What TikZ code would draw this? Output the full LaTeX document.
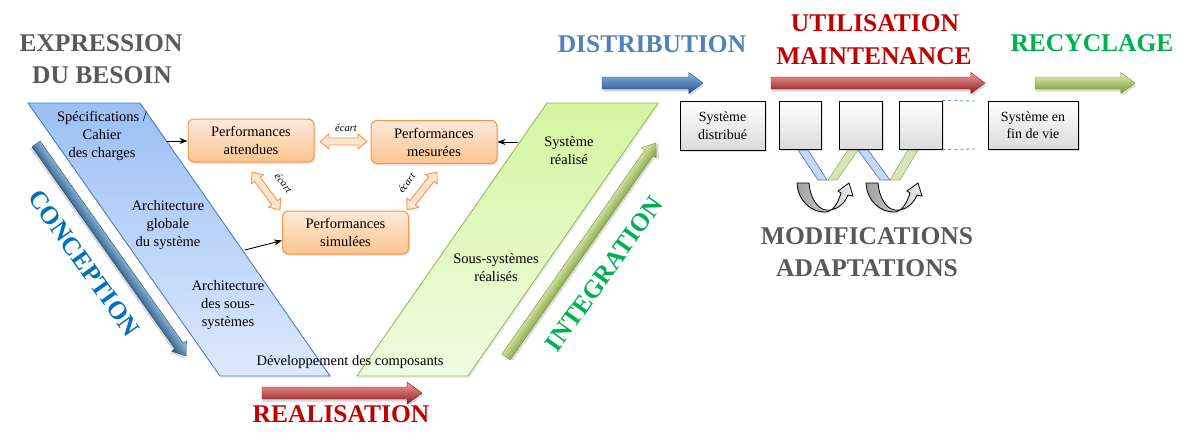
\documentclass[tikz,border=0pt]{standalone}
\usepackage{fontspec}
\setmainfont{Liberation Serif}
\usetikzlibrary{arrows.meta,shadows,calc}
\definecolor{hgrey}{HTML}{595959}
\definecolor{hblue}{HTML}{4F81BD}
\definecolor{hred}{HTML}{C00000}
\definecolor{hgreen}{HTML}{00B050}
\definecolor{cblue}{HTML}{0070C0}
\definecolor{vblue}{HTML}{4A7EBB}
\definecolor{vbluetop}{HTML}{9CBFF5}
\definecolor{vbluebot}{HTML}{DDE9FC}
\definecolor{vgreen}{HTML}{9BBB59}
\definecolor{vgreentop}{HTML}{D5F5A0}
\definecolor{vgreenbot}{HTML}{F0FBE2}
\definecolor{porange}{HTML}{F79646}
\definecolor{ptop}{HTML}{FDEADA}
\definecolor{pbot}{HTML}{FBC491}
\definecolor{dfill}{HTML}{FDE4CD}
\definecolor{sbfill}{HTML}{C6D9F1}
\definecolor{sgfill}{HTML}{D7E4BC}
\definecolor{tbtop}{HTML}{8DB3E2}
\definecolor{tbmid}{HTML}{4F81BD}
\definecolor{tbbot}{HTML}{24528F}
\definecolor{tctop}{HTML}{A9CDF0}
\definecolor{tcmid}{HTML}{3A85CC}
\definecolor{tcbot}{HTML}{1F4E79}
\definecolor{trtop}{HTML}{F4A09E}
\definecolor{trmid}{HTML}{D33F3C}
\definecolor{trbot}{HTML}{8B1A1A}
\definecolor{tgtop}{HTML}{E6F3C2}
\definecolor{tgmid}{HTML}{B3D466}
\definecolor{tgbot}{HTML}{76962C}

% 3D block arrow: x, y, angle, length, top, mid, bottom, half body, half head
\newcommand\tubearrow[9]{%
  \begin{scope}[transform canvas={shift={(#1,#2)},rotate=#3}]
    \fill[black,opacity=0.15] (1,{-#8+2.5}) -- ({#4-1.35*#9+1},{-#8+2.5}) -- ({#4-1.35*#9+1},{-#9+2.5}) -- ({#4+1},2.5) -- ({#4-1.35*#9+1},{#9+2.5}) -- ({#4-1.35*#9+1},{#8+2.5}) -- (1,{#8+2.5}) -- cycle;
    \path[top color=#5, middle color=#6, bottom color=#7, draw=#7, line width=0.4pt]
      (0,-#8) -- ({#4-1.35*#9},-#8) -- ({#4-1.35*#9},-#9) -- (#4,0) -- ({#4-1.35*#9},#9) -- ({#4-1.35*#9},#8) -- (0,#8) -- cycle;
  \end{scope}}

% orange double arrow: x, y, angle, length
\newcommand\dblarr[4]{%
  \begin{scope}[shift={(#1,#2)},rotate=#3]
    \path[draw=porange, line width=0.9pt, fill=dfill]
      ({-#4/2},0) -- ({-#4/2+9},-7.5) -- ({-#4/2+9},-3.5) -- ({#4/2-9},-3.5) -- ({#4/2-9},-7.5) -- ({#4/2},0)
      -- ({#4/2-9},7.5) -- ({#4/2-9},3.5) -- ({-#4/2+9},3.5) -- ({-#4/2+9},7.5) -- cycle;
  \end{scope}}

% grey curved U arrow: x, y of upper-left corner
\newcommand\uarrow[2]{%
  \begin{scope}[shift={(#1,#2)}]
    \path[draw=black, line width=0.8pt, left color=gray!75, right color=gray!12,
      drop shadow={opacity=0.2,shadow xshift=0pt,shadow yshift=-2pt}]
      (0,0) .. controls (1,18) and (14,29) .. (28,29)
      .. controls (36,29) and (41,20) .. (44,10) -- (41,8) -- (52,0) -- (56,13) -- (51,12)
      .. controls (47,22) and (38,28) .. (29,27)
      .. controls (20,26) and (13,14) .. (12,0) -- cycle;
  \end{scope}}

\begin{document}
\begin{tikzpicture}[x=1pt,y=-1pt,
  body/.style={font=\fontsize{14.5}{18}\selectfont, align=center, inner sep=0pt},
  head/.style={font=\bfseries\fontsize{25.5}{31}\selectfont, inner sep=0pt},
  perf/.style={draw=porange, line width=1pt, rounded corners=6pt, top color=ptop, bottom color=pbot,
    minimum width=126pt, minimum height=43pt, inner sep=0pt, font=\fontsize{14.5}{18}\selectfont, align=center,
    drop shadow={opacity=0.2, shadow xshift=1.5pt, shadow yshift=-2pt}},
  sysbox/.style={draw=black, line width=0.9pt, top color=white, bottom color=gray!28, inner sep=0pt,
    font=\fontsize{14}{17.5}\selectfont, align=center,
    drop shadow={opacity=0.25, shadow xshift=1.5pt, shadow yshift=-2pt}},
  ecart/.style={font=\itshape\fontsize{10.5}{12}\selectfont, inner sep=0pt},
  link/.style={-{Stealth[length=8pt,width=6pt,inset=2.5pt]}, line width=0.9pt},
  dashline/.style={draw=vblue, line width=0.8pt, dash pattern=on 3pt off 3pt}
]
\useasboundingbox (0,0) rectangle (1200,447);

% V parallelograms
\path[draw=vblue, line width=0.9pt, top color=vbluetop, bottom color=vbluebot,
  drop shadow={opacity=0.15, shadow xshift=1.5pt, shadow yshift=-2pt}]
  (28,103) -- (140,103) -- (330,376) -- (220,376) -- cycle;
\path[draw=vgreen, line width=0.9pt, top color=vgreentop, bottom color=vgreenbot,
  drop shadow={opacity=0.15, shadow xshift=1.5pt, shadow yshift=-2pt}]
  (357,376) -- (468,376) -- (658,103) -- (547,103) -- cycle;

% tubes
\tubearrow{36}{144}{-54.7}{259.7}{tctop}{tcmid}{tcbot}{5}{9}
\tubearrow{506}{357}{55}{261.3}{tgtop}{tgmid}{tgbot}{5}{9}
\tubearrow{262}{393}{0}{160}{trtop}{trmid}{trbot}{6}{11}
\tubearrow{602}{83}{0}{101}{tbtop}{tbmid}{tbbot}{6}{10.5}
\tubearrow{771}{83}{0}{214}{trtop}{trmid}{trbot}{6}{10.5}
\tubearrow{1035}{83}{0}{100}{tgtop}{tgmid}{tgbot}{6}{10.5}

% headings
\node[head, text=hgrey] (expr) at (101,43) {EXPRESSION};
\node[head, text=hgrey] (besoin) at (102,75) {DU BESOIN};
\node[head, text=hblue] (distr) at (652,44) {DISTRIBUTION};
\node[head, text=hred] (util) at (875,23) {UTILISATION};
\node[head, text=hred] (maint) at (874,56) {MAINTENANCE};
\node[head, text=hgreen] (recy) at (1092,43) {RECYCLAGE};
\node[head, text=hred] (real) at (341,414) {REALISATION};
\node[head, text=cblue, rotate=-54.5] (conc) at (84,263) {CONCEPTION};
\node[head, text=hgreen, rotate=54.5] (integ) at (604,274) {INTEGRATION};
\node[head, text=hgrey] (modif) at (867,236) {MODIFICATIONS};
\node[head, text=hgrey] (adapt) at (867,268) {ADAPTATIONS};

% texts in the V
\node[body] (spec) at (102,136) {Spécifications /\\Cahier\\des charges};
\node[body] (archg) at (168,225) {Architecture\\globale\\du système};
\node[body] (archs) at (228,305) {Architecture\\des sous-\\systèmes};
\node[body] (dev) at (350,362) {Développement des composants};
\node[body] (sysr) at (569,150.5) {Système\\réalisé};
\node[body] (ssr) at (496,268) {Sous-systèmes\\réalisés};

% performance boxes
\node[perf] (att) at (251,140.5) {Performances\\attendues};
\node[perf] (mes) at (434,142) {Performances\\mesurées};
\node[perf] (sim) at (345.5,232.5) {Performances\\simulées};

% ecart double arrows
\dblarr{343.5}{141.5}{0}{47}
\dblarr{266}{191}{-53.6}{47}
\dblarr{422}{191}{51.7}{48}
\node[ecart] (e1) at (346,128) {écart};
\node[ecart, rotate=-53] (e2) at (283.5,183) {écart};
\node[ecart, rotate=53] (e3) at (406.5,183) {écart};

% black links
\coordinate (specout) at (167,141);
\draw[link] (specout) -- (specout -| att.west);
\coordinate (archout) at (245,250);
\draw[link] (archout) -- ($(sim.west)+(0,8)$);
\coordinate (realout) at (518,142);
\draw[link] (realout) -- (mes.east);

% bands under boxes
\path[draw=vblue, fill=sbfill, line width=0.7pt] (798,150) -- (808,150) -- (827,180) -- (818,180) -- cycle;
\path[draw=vgreen, fill=sgfill, line width=0.7pt] (848,150) -- (858,150) -- (837,180) -- (828,180) -- cycle;
\path[draw=vblue, fill=sbfill, line width=0.7pt] (858,150) -- (868,150) -- (890,180) -- (880,180) -- cycle;
\path[draw=vgreen, fill=sgfill, line width=0.7pt] (908,150) -- (918,150) -- (900,180) -- (890,180) -- cycle;

% system boxes
\node[sysbox, minimum width=85pt, minimum height=49pt] (sd) at (722.5,125.5) {Système\\distribué};
\node[sysbox, minimum width=42pt, minimum height=48pt] (b2) at (800,125) {};
\node[sysbox, minimum width=43pt, minimum height=48pt] (b3) at (860.5,125) {};
\node[sysbox, minimum width=43pt, minimum height=48pt] (b4) at (920.5,125) {};
\node[sysbox, minimum width=90pt, minimum height=48pt] (fv) at (1033,125) {Système en\\fin de vie};
\coordinate (d1) at (975,101);
\coordinate (d2) at (975,149);
\draw[dashline] (b4.north east) -- (d1);
\draw[dashline] (b4.south east) -- (d2);

% curved arrows
\uarrow{797}{183}
\uarrow{866}{183}
\end{tikzpicture}
\end{document}
